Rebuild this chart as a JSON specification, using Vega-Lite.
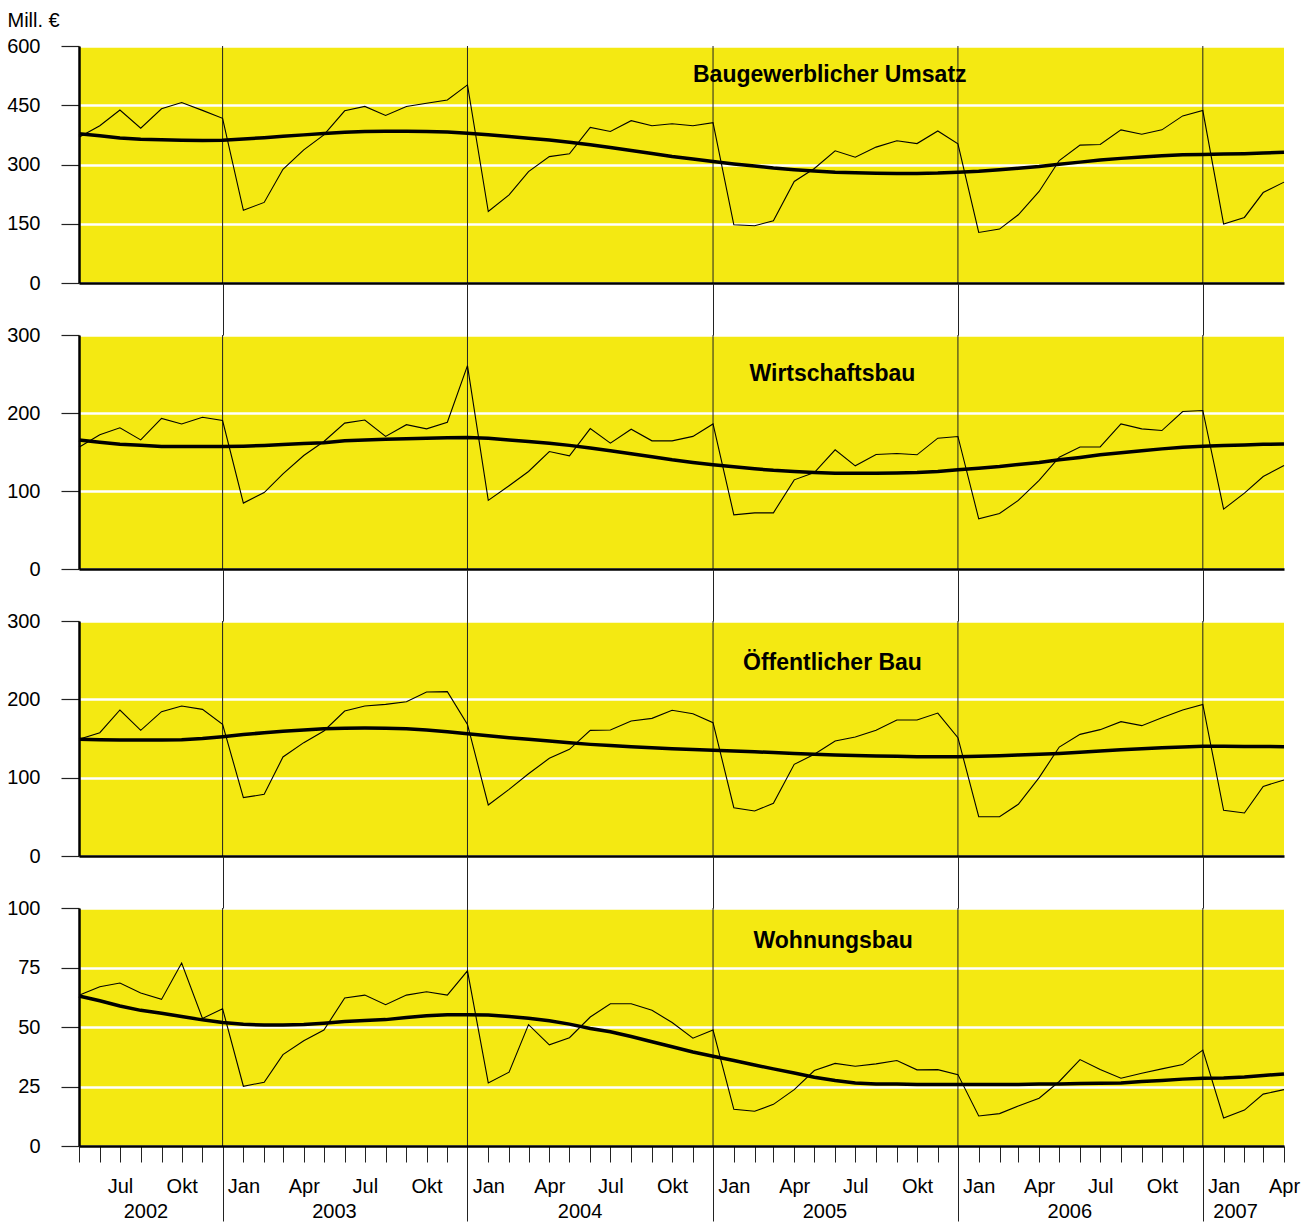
{
  "$schema": "https://vega.github.io/schema/vega-lite/v6.json",
  "background": "white",
  "padding": {"left": 6, "top": 10, "right": 10, "bottom": 2},
  "bounds": "flush",
  "spacing": 52,
  "datasets": {
    "yb": [{"date": "2002-12-01"}, {"date": "2003-12-01"}, {"date": "2004-12-01"}, {"date": "2005-12-01"}, {"date": "2006-12-01"}],
    "m": [
      {"date":"2002-05-01","u":369,"ut":377.6,"w":156,"wt":165.5,"o":149,"ot":149,"h":63.3,"ht":63},
      {"date":"2002-06-01","u":398,"ut":373,"w":172,"wt":162.5,"o":157.4,"ot":148.5,"h":66.9,"ht":61},
      {"date":"2002-07-01","u":438,"ut":367,"w":181,"wt":160,"o":186.4,"ot":148,"h":68.5,"ht":58.8},
      {"date":"2002-08-01","u":392,"ut":364,"w":165.5,"wt":158.5,"o":160.4,"ot":148,"h":64.3,"ht":57},
      {"date":"2002-09-01","u":441,"ut":362.4,"w":193,"wt":157,"o":184.2,"ot":148,"h":61.6,"ht":55.8},
      {"date":"2002-10-01","u":457,"ut":361.5,"w":186,"wt":157,"o":191.5,"ot":148.5,"h":76.9,"ht":54.4},
      {"date":"2002-11-01","u":437,"ut":361,"w":194.6,"wt":157,"o":187.2,"ot":150,"h":53.6,"ht":53},
      {"date":"2002-12-01","u":417,"ut":361.5,"w":190.3,"wt":157,"o":168,"ot":152.3,"h":57.7,"ht":51.9},
      {"date":"2003-01-01","u":184,"ut":364.5,"w":84.5,"wt":157.5,"o":74.5,"ot":155,"h":25.1,"ht":51.2},
      {"date":"2003-02-01","u":204,"ut":368,"w":98,"wt":158.3,"o":78.7,"ot":157.4,"h":26.8,"ht":50.8},
      {"date":"2003-03-01","u":288,"ut":371.5,"w":122,"wt":159.5,"o":126.4,"ot":159.2,"h":38.4,"ht":50.8},
      {"date":"2003-04-01","u":337,"ut":375,"w":145.5,"wt":160.8,"o":144.7,"ot":160.8,"h":44.2,"ht":51},
      {"date":"2003-05-01","u":375,"ut":378.5,"w":163.5,"wt":162,"o":159.6,"ot":162.5,"h":48.7,"ht":51.6},
      {"date":"2003-06-01","u":436,"ut":381.5,"w":187,"wt":164.5,"o":185,"ot":163.2,"h":62.2,"ht":52.3},
      {"date":"2003-07-01","u":447,"ut":383.5,"w":191,"wt":165.5,"o":191.5,"ot":163.4,"h":63.4,"ht":52.7},
      {"date":"2003-08-01","u":424,"ut":384.3,"w":170,"wt":166.4,"o":193.6,"ot":163.2,"h":59.4,"ht":53.1},
      {"date":"2003-09-01","u":447,"ut":384.3,"w":185,"wt":167,"o":197,"ot":162.5,"h":63.4,"ht":54},
      {"date":"2003-10-01","u":455,"ut":383.5,"w":179.7,"wt":167.7,"o":209.3,"ot":160.8,"h":64.8,"ht":54.7},
      {"date":"2003-11-01","u":463.5,"ut":382,"w":188.2,"wt":168.2,"o":209.8,"ot":158.5,"h":63.4,"ht":55.1},
      {"date":"2003-12-01","u":501.5,"ut":379.3,"w":260.8,"wt":168.6,"o":168,"ot":156.2,"h":73.6,"ht":55.1},
      {"date":"2004-01-01","u":181,"ut":375.5,"w":88,"wt":167.5,"o":65.1,"ot":153.5,"h":26.5,"ht":55},
      {"date":"2004-02-01","u":223,"ut":371,"w":106.7,"wt":165.5,"o":85.1,"ot":151,"h":31,"ht":54.4},
      {"date":"2004-03-01","u":282,"ut":366.5,"w":125,"wt":163.5,"o":105,"ot":149,"h":51,"ht":53.7},
      {"date":"2004-04-01","u":320,"ut":362,"w":150.6,"wt":161.3,"o":124.7,"ot":146.8,"h":42.5,"ht":52.6},
      {"date":"2004-05-01","u":327,"ut":356.5,"w":145,"wt":158.5,"o":136.2,"ot":144.6,"h":45.5,"ht":51.2},
      {"date":"2004-06-01","u":394,"ut":350,"w":180,"wt":155,"o":160.4,"ot":142.5,"h":54.2,"ht":49.4},
      {"date":"2004-07-01","u":383.5,"ut":343,"w":161.3,"wt":151.5,"o":160.8,"ot":141,"h":59.8,"ht":48},
      {"date":"2004-08-01","u":411,"ut":335.5,"w":179.2,"wt":147.7,"o":172.3,"ot":139.6,"h":59.8,"ht":46},
      {"date":"2004-09-01","u":398,"ut":328,"w":164.3,"wt":144,"o":175.7,"ot":138.3,"h":57,"ht":43.8},
      {"date":"2004-10-01","u":403,"ut":320.5,"w":164.3,"wt":140,"o":186,"ot":137,"h":51.9,"ht":41.7},
      {"date":"2004-11-01","u":398,"ut":314,"w":170,"wt":136.5,"o":181.7,"ot":135.8,"h":45.3,"ht":39.5},
      {"date":"2004-12-01","u":406,"ut":307.6,"w":186,"wt":133.6,"o":170.2,"ot":134.9,"h":48.7,"ht":37.7},
      {"date":"2005-01-01","u":147.5,"ut":301.5,"w":69.5,"wt":131,"o":61.7,"ot":134,"h":15.4,"ht":35.9},
      {"date":"2005-02-01","u":145,"ut":296,"w":72,"wt":128.4,"o":57.4,"ot":133.2,"h":14.6,"ht":34},
      {"date":"2005-03-01","u":157.6,"ut":291,"w":72,"wt":126.5,"o":67.2,"ot":132,"h":17.5,"ht":32.4},
      {"date":"2005-04-01","u":257,"ut":287,"w":114.3,"wt":125,"o":117,"ot":131,"h":23.7,"ht":30.7},
      {"date":"2005-05-01","u":290,"ut":283.5,"w":123.7,"wt":123.8,"o":129.8,"ot":130,"h":31.7,"ht":28.9},
      {"date":"2005-06-01","u":334.6,"ut":280.5,"w":152.8,"wt":122.9,"o":146.8,"ot":128.9,"h":34.7,"ht":27.5},
      {"date":"2005-07-01","u":318.6,"ut":279,"w":132.3,"wt":122.7,"o":151.9,"ot":128.2,"h":33.5,"ht":26.5},
      {"date":"2005-08-01","u":344,"ut":278,"w":146.8,"wt":122.9,"o":160.4,"ot":127.6,"h":34.5,"ht":26.1},
      {"date":"2005-09-01","u":360,"ut":277.5,"w":148,"wt":123.2,"o":173.6,"ot":127.2,"h":35.9,"ht":26},
      {"date":"2005-10-01","u":353,"ut":277.5,"w":146.4,"wt":123.7,"o":173.6,"ot":126.8,"h":32,"ht":25.8},
      {"date":"2005-11-01","u":385,"ut":278.5,"w":167.7,"wt":125,"o":182.5,"ot":126.7,"h":32.1,"ht":25.8},
      {"date":"2005-12-01","u":352.3,"ut":280.6,"w":169.9,"wt":127.2,"o":151,"ot":126.8,"h":30,"ht":25.8},
      {"date":"2006-01-01","u":128,"ut":283,"w":64.4,"wt":129.3,"o":50.2,"ot":127.3,"h":12.6,"ht":25.8},
      {"date":"2006-02-01","u":136.5,"ut":286.6,"w":71.2,"wt":131.4,"o":50.2,"ot":128.1,"h":13.6,"ht":25.8},
      {"date":"2006-03-01","u":172.8,"ut":290.5,"w":87.9,"wt":134,"o":66,"ot":129,"h":16.8,"ht":25.8},
      {"date":"2006-04-01","u":231.8,"ut":295,"w":113.5,"wt":136.5,"o":100,"ot":129.8,"h":20.1,"ht":26},
      {"date":"2006-05-01","u":310,"ut":300.5,"w":143.4,"wt":140,"o":139.1,"ot":131,"h":27.1,"ht":26.1},
      {"date":"2006-06-01","u":349,"ut":306,"w":156.5,"wt":143,"o":155.3,"ot":132.5,"h":36.3,"ht":26.3},
      {"date":"2006-07-01","u":350.6,"ut":311.5,"w":156.5,"wt":146.4,"o":161.3,"ot":134,"h":32.1,"ht":26.4},
      {"date":"2006-08-01","u":387.7,"ut":315.5,"w":186,"wt":149,"o":171.5,"ot":135.5,"h":28.5,"ht":26.5},
      {"date":"2006-09-01","u":376.7,"ut":319,"w":179.7,"wt":151.5,"o":166.4,"ot":137,"h":30.6,"ht":27.1},
      {"date":"2006-10-01","u":387.7,"ut":322,"w":177.5,"wt":154,"o":176.6,"ot":138.1,"h":32.4,"ht":27.5},
      {"date":"2006-11-01","u":423,"ut":324.5,"w":201.9,"wt":156.2,"o":186.4,"ot":139.1,"h":34.2,"ht":28.1},
      {"date":"2006-12-01","u":436.6,"ut":325.5,"w":203.2,"wt":157.5,"o":193.6,"ot":140,"h":40.3,"ht":28.5},
      {"date":"2007-01-01","u":149,"ut":326.5,"w":76.8,"wt":158.3,"o":58.3,"ot":140,"h":11.8,"ht":28.6},
      {"date":"2007-02-01","u":166,"ut":327.5,"w":97.3,"wt":159,"o":54.9,"ot":139.8,"h":15.1,"ht":29},
      {"date":"2007-03-01","u":229,"ut":329,"w":118.6,"wt":159.8,"o":88.9,"ot":139.7,"h":21.8,"ht":29.6},
      {"date":"2007-04-01","u":255.4,"ut":331,"w":132.7,"wt":160.4,"o":97,"ot":139.6,"h":23.7,"ht":30.3}
    ]
  },
  "vconcat": [
    {
      "width": 1205, "height": 237,
      "resolve": {"axis": {"x": "independent"}},
      "layer": [
        {"data": {"name": "yb"}, "mark": {"type": "rule", "color": "#222", "strokeWidth": 1},
         "encoding": {"x": {"field": "date", "type": "temporal", "scale": {"type": "utc", "domain": [{"year":2002,"month":5,"date":1,"utc":true},{"year":2007,"month":4,"date":1,"utc":true}]}, "axis": null}}},
        {"data": {"name": "m"}, "mark": {"type": "line", "color": "black", "strokeWidth": 1.1},
         "encoding": {
           "x": {"field": "date", "type": "temporal", "scale": {"type": "utc", "domain": [{"year":2002,"month":5,"date":1,"utc":true},{"year":2007,"month":4,"date":1,"utc":true}]},
                 "axis": {"orient": "bottom", "domain": true, "domainColor": "black", "domainWidth": 2.5, "ticks": false, "labels": false, "grid": false, "title": null, "zindex": 1}},
           "y": {"field": "u", "type": "quantitative", "scale": {"domain": [0, 600], "nice": false},
                 "axis": {"values": [0, 150, 300, 450, 600], "title": "Mill. €", "titleAngle": 0, "titleAlign": "left", "titleBaseline": "alphabetic", "titleX": -72, "titleY": -20, "titleFontSize": 20, "titleFontWeight": "normal"}}}},
        {"data": {"name": "m"}, "mark": {"type": "line", "color": "black", "strokeWidth": 3.5},
         "encoding": {
           "x": {"field": "date", "type": "temporal", "scale": {"type": "utc", "domain": [{"year":2002,"month":5,"date":1,"utc":true},{"year":2007,"month":4,"date":1,"utc":true}]}, "axis": null},
           "y": {"field": "ut", "type": "quantitative", "scale": {"domain": [0, 600], "nice": false}}}},
        {"data": {"values": [{"label": "Baugewerblicher Umsatz", "date": "2005-05-24", "v": 510}]},
         "mark": {"type": "text", "font": "Liberation Sans", "fontSize": 23, "fontWeight": "bold", "align": "center", "baseline": "alphabetic", "color": "black"},
         "encoding": {
           "x": {"field": "date", "type": "temporal", "scale": {"type": "utc", "domain": [{"year":2002,"month":5,"date":1,"utc":true},{"year":2007,"month":4,"date":1,"utc":true}]}, "axis": null},
           "y": {"field": "v", "type": "quantitative", "scale": {"domain": [0, 600], "nice": false}},
           "text": {"field": "label"}}}
      ]
    },
    {
      "width": 1205, "height": 234,
      "resolve": {"axis": {"x": "independent"}},
      "layer": [
        {"data": {"name": "yb"}, "mark": {"type": "rule", "color": "#222", "strokeWidth": 1},
         "encoding": {"x": {"field": "date", "type": "temporal", "scale": {"type": "utc", "domain": [{"year":2002,"month":5,"date":1,"utc":true},{"year":2007,"month":4,"date":1,"utc":true}]}, "axis": null}}},
        {"data": {"name": "m"}, "mark": {"type": "line", "color": "black", "strokeWidth": 1.1},
         "encoding": {
           "x": {"field": "date", "type": "temporal", "scale": {"type": "utc", "domain": [{"year":2002,"month":5,"date":1,"utc":true},{"year":2007,"month":4,"date":1,"utc":true}]},
                 "axis": {"orient": "bottom", "domain": true, "domainColor": "black", "domainWidth": 2.5, "ticks": false, "labels": false, "grid": false, "title": null, "zindex": 1}},
           "y": {"field": "w", "type": "quantitative", "scale": {"domain": [0, 300], "nice": false},
                 "axis": {"values": [0, 100, 200, 300], "title": null}}}},
        {"data": {"name": "m"}, "mark": {"type": "line", "color": "black", "strokeWidth": 3.5},
         "encoding": {
           "x": {"field": "date", "type": "temporal", "scale": {"type": "utc", "domain": [{"year":2002,"month":5,"date":1,"utc":true},{"year":2007,"month":4,"date":1,"utc":true}]},
                 "axis": {"orient": "top", "values": [{"year":2002,"month":12,"date":1,"utc":true},{"year":2003,"month":12,"date":1,"utc":true},{"year":2004,"month":12,"date":1,"utc":true},{"year":2005,"month":12,"date":1,"utc":true},{"year":2006,"month":12,"date":1,"utc":true}],
                          "ticks": true, "tickSize": 52, "tickColor": "#222", "tickWidth": 1, "labels": false, "domain": false, "grid": false, "title": null}},
           "y": {"field": "wt", "type": "quantitative", "scale": {"domain": [0, 300], "nice": false}}}},
        {"data": {"values": [{"label": "Wirtschaftsbau", "date": "2005-05-28", "v": 241.4}]},
         "mark": {"type": "text", "font": "Liberation Sans", "fontSize": 23, "fontWeight": "bold", "align": "center", "baseline": "alphabetic", "color": "black"},
         "encoding": {
           "x": {"field": "date", "type": "temporal", "scale": {"type": "utc", "domain": [{"year":2002,"month":5,"date":1,"utc":true},{"year":2007,"month":4,"date":1,"utc":true}]}, "axis": null},
           "y": {"field": "v", "type": "quantitative", "scale": {"domain": [0, 300], "nice": false}},
           "text": {"field": "label"}}}
      ]
    },
    {
      "width": 1205, "height": 235,
      "resolve": {"axis": {"x": "independent"}},
      "layer": [
        {"data": {"name": "yb"}, "mark": {"type": "rule", "color": "#222", "strokeWidth": 1},
         "encoding": {"x": {"field": "date", "type": "temporal", "scale": {"type": "utc", "domain": [{"year":2002,"month":5,"date":1,"utc":true},{"year":2007,"month":4,"date":1,"utc":true}]}, "axis": null}}},
        {"data": {"name": "m"}, "mark": {"type": "line", "color": "black", "strokeWidth": 1.1},
         "encoding": {
           "x": {"field": "date", "type": "temporal", "scale": {"type": "utc", "domain": [{"year":2002,"month":5,"date":1,"utc":true},{"year":2007,"month":4,"date":1,"utc":true}]},
                 "axis": {"orient": "bottom", "domain": true, "domainColor": "black", "domainWidth": 2.5, "ticks": false, "labels": false, "grid": false, "title": null, "zindex": 1}},
           "y": {"field": "o", "type": "quantitative", "scale": {"domain": [0, 300], "nice": false},
                 "axis": {"values": [0, 100, 200, 300], "title": null}}}},
        {"data": {"name": "m"}, "mark": {"type": "line", "color": "black", "strokeWidth": 3.5},
         "encoding": {
           "x": {"field": "date", "type": "temporal", "scale": {"type": "utc", "domain": [{"year":2002,"month":5,"date":1,"utc":true},{"year":2007,"month":4,"date":1,"utc":true}]},
                 "axis": {"orient": "top", "values": [{"year":2002,"month":12,"date":1,"utc":true},{"year":2003,"month":12,"date":1,"utc":true},{"year":2004,"month":12,"date":1,"utc":true},{"year":2005,"month":12,"date":1,"utc":true},{"year":2006,"month":12,"date":1,"utc":true}],
                          "ticks": true, "tickSize": 52, "tickColor": "#222", "tickWidth": 1, "labels": false, "domain": false, "grid": false, "title": null}},
           "y": {"field": "ot", "type": "quantitative", "scale": {"domain": [0, 300], "nice": false}}}},
        {"data": {"values": [{"label": "Öffentlicher Bau", "date": "2005-05-28", "v": 237.4}]},
         "mark": {"type": "text", "font": "Liberation Sans", "fontSize": 23, "fontWeight": "bold", "align": "center", "baseline": "alphabetic", "color": "black"},
         "encoding": {
           "x": {"field": "date", "type": "temporal", "scale": {"type": "utc", "domain": [{"year":2002,"month":5,"date":1,"utc":true},{"year":2007,"month":4,"date":1,"utc":true}]}, "axis": null},
           "y": {"field": "v", "type": "quantitative", "scale": {"domain": [0, 300], "nice": false}},
           "text": {"field": "label"}}}
      ]
    },
    {
      "width": 1205, "height": 238,
      "resolve": {"axis": {"x": "independent"}},
      "layer": [
        {"data": {"name": "yb"}, "mark": {"type": "rule", "color": "#222", "strokeWidth": 1},
         "encoding": {"x": {"field": "date", "type": "temporal", "scale": {"type": "utc", "domain": [{"year":2002,"month":5,"date":1,"utc":true},{"year":2007,"month":4,"date":1,"utc":true}]},
                 "axis": {"orient": "bottom", "values": [{"year":2002,"month":8,"date":8,"utc":true},{"year":2003,"month":5,"date":16,"utc":true},{"year":2004,"month":5,"date":16,"utc":true},{"year":2005,"month":5,"date":16,"utc":true},{"year":2006,"month":5,"date":16,"utc":true},{"year":2007,"month":1,"date":18,"utc":true}],
                          "ticks": false, "domain": false, "grid": false, "labels": true, "labelExpr": "utcFormat(datum.value, '%Y')", "labelPadding": 71, "labelBaseline": "alphabetic", "labelFlush": false, "labelOverlap": false, "labelBound": false, "title": null, "zindex": 1}}}},
        {"data": {"name": "m"}, "mark": {"type": "line", "color": "black", "strokeWidth": 1.1},
         "encoding": {
           "x": {"field": "date", "type": "temporal", "scale": {"type": "utc", "domain": [{"year":2002,"month":5,"date":1,"utc":true},{"year":2007,"month":4,"date":1,"utc":true}]},
                 "axis": {"orient": "bottom", "tickCount": {"interval": "month", "step": 1}, "domain": true, "domainColor": "black", "domainWidth": 2.5, "ticks": true, "tickSize": 16, "tickColor": "#222", "tickWidth": 1, "labels": true,
                          "labelExpr": "['Jan','','','Apr','','','Jul','','','Okt','',''][utcmonth(datum.value)]", "labelPadding": 30, "labelBaseline": "alphabetic", "labelFlush": false, "labelOverlap": false, "labelBound": false, "grid": false, "title": null, "zindex": 1}},
           "y": {"field": "h", "type": "quantitative", "scale": {"domain": [0, 100], "nice": false},
                 "axis": {"values": [0, 25, 50, 75, 100], "title": null}}}},
        {"data": {"name": "m"}, "mark": {"type": "line", "color": "black", "strokeWidth": 3.5},
         "encoding": {
           "x": {"field": "date", "type": "temporal", "scale": {"type": "utc", "domain": [{"year":2002,"month":5,"date":1,"utc":true},{"year":2007,"month":4,"date":1,"utc":true}]},
                 "axis": {"orient": "top", "values": [{"year":2002,"month":12,"date":1,"utc":true},{"year":2003,"month":12,"date":1,"utc":true},{"year":2004,"month":12,"date":1,"utc":true},{"year":2005,"month":12,"date":1,"utc":true},{"year":2006,"month":12,"date":1,"utc":true}],
                          "ticks": true, "tickSize": 52, "tickColor": "#222", "tickWidth": 1, "labels": false, "domain": false, "grid": false, "title": null}},
           "y": {"field": "ht", "type": "quantitative", "scale": {"domain": [0, 100], "nice": false}}}},
        {"data": {"values": [{"label": "Wohnungsbau", "date": "2005-05-29", "v": 83.1}]},
         "mark": {"type": "text", "font": "Liberation Sans", "fontSize": 23, "fontWeight": "bold", "align": "center", "baseline": "alphabetic", "color": "black"},
         "encoding": {
           "x": {"field": "date", "type": "temporal", "scale": {"type": "utc", "domain": [{"year":2002,"month":5,"date":1,"utc":true},{"year":2007,"month":4,"date":1,"utc":true}]},
                 "axis": {"orient": "bottom", "values": [{"year":2002,"month":12,"date":1,"utc":true},{"year":2003,"month":12,"date":1,"utc":true},{"year":2004,"month":12,"date":1,"utc":true},{"year":2005,"month":12,"date":1,"utc":true},{"year":2006,"month":12,"date":1,"utc":true}],
                          "ticks": true, "tickSize": 75, "tickColor": "#222", "tickWidth": 1, "labels": false, "domain": false, "grid": false, "title": null}},
           "y": {"field": "v", "type": "quantitative", "scale": {"domain": [0, 100], "nice": false}},
           "text": {"field": "label"}}}
      ]
    }
  ],
  "config": {
    "font": "Liberation Sans",
    "view": {"fill": "#F4E912", "stroke": null},
    "axis": {"labelFont": "Liberation Sans", "labelFontSize": 20, "labelColor": "black", "titleFont": "Liberation Sans", "titleColor": "black"},
    "axisY": {"domain": true, "domainColor": "black", "domainWidth": 2.5, "ticks": true, "tickColor": "#222", "tickWidth": 1.2, "tickSize": 18, "labelPadding": 21, "grid": true, "gridColor": "white", "gridWidth": 2.5, "labelBaseline": "middle"}
  }
}
